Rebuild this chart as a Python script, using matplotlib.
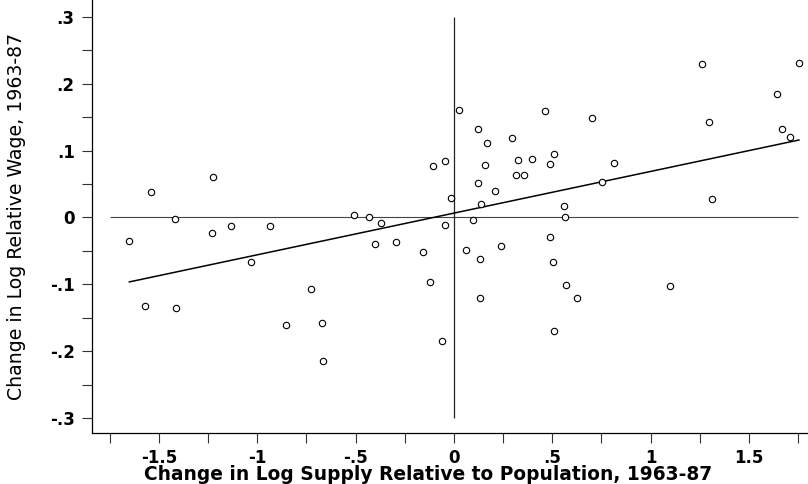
import matplotlib
matplotlib.use('Agg')
import matplotlib.pyplot as plt
import numpy as np

# change in log supply relative to population vs change in log relative wage, 1963-87
supply = [-1.650, -1.571, -1.540, -1.417, -1.415, -1.232, -1.225, -1.136, -1.030, -0.934,
          -0.856, -0.725, -0.673, -0.668, -0.507, -0.434, -0.402, -0.371, -0.295, -0.156,
          -0.122, -0.107, -0.061, -0.047, -0.046, -0.014, 0.025, 0.059, 0.095, 0.120,
          0.120, 0.134, 0.134, 0.137, 0.160, 0.168, 0.207, 0.237, 0.293, 0.315,
          0.325, 0.356, 0.397, 0.461, 0.486, 0.488, 0.505, 0.507, 0.507, 0.559,
          0.564, 0.571, 0.625, 0.702, 0.754, 0.815, 1.100, 1.262, 1.295, 1.310,
          1.640, 1.666, 1.710, 1.754]
wage = [-0.035, -0.132, 0.038, -0.003, -0.135, -0.023, 0.061, -0.013, -0.066, -0.013,
        -0.161, -0.107, -0.158, -0.215, 0.004, 0.001, -0.040, -0.008, -0.036, -0.052,
        -0.096, 0.077, -0.185, 0.085, -0.012, 0.029, 0.161, -0.048, -0.004, 0.132,
        0.052, -0.062, -0.120, 0.020, 0.078, 0.111, 0.039, -0.043, 0.119, 0.063,
        0.086, 0.063, 0.088, 0.159, -0.029, 0.080, -0.067, 0.095, -0.169, 0.017,
        0.001, -0.101, -0.120, 0.148, 0.053, 0.082, -0.102, 0.229, 0.142, 0.027,
        0.185, 0.132, 0.121, 0.231]

# fitted line (slope, intercept)
fit_slope = 0.0623
fit_intercept = 0.0065

xticks = [-1.5, -1, -0.5, 0, 0.5, 1, 1.5]
xticklabels = ['-1.5', '-1', '-.5', '0', '.5', '1', '1.5']
xminor = [-1.75, -1.25, -0.75, -0.25, 0.25, 0.75, 1.25, 1.75]
yticks = [-0.3, -0.2, -0.1, 0, 0.1, 0.2, 0.3]
yticklabels = ['-.3', '-.2', '-.1', '0', '.1', '.2', '.3']
yminor = [-0.25, -0.15, -0.05, 0.05, 0.15, 0.25]

fig = plt.figure(figsize=(8.08, 4.84), dpi=100)
ax = fig.add_axes([0.1139, 0.1047, 0.8861, 0.8953])

x = np.array(supply)
y = np.array(wage)

# reference lines through origin
ax.hlines(0, xminor[0], xminor[-1], color='#444444', lw=0.8, zorder=1)
ax.vlines(0, yticks[0], yticks[-1], color='#222222', lw=0.9, zorder=1)

xs = np.array([x.min(), x.max()])
ax.plot(xs, fit_intercept + fit_slope*xs, color='black', lw=1.1, zorder=2)

ax.plot(x, y, marker='o', ls='none', ms=4.6, mfc='white', mec='black', mew=0.8, zorder=3)

ax.set_xlim(-1.84, 1.80)
ax.set_ylim(-0.3226, 0.325)

for s in ['top', 'right']:
    ax.spines[s].set_visible(False)
for s in ['left', 'bottom']:
    ax.spines[s].set_linewidth(0.9)

ax.set_xticks(xticks)
ax.set_xticklabels(xticklabels)
ax.set_xticks(xminor, minor=True)
ax.set_yticks(yticks)
ax.set_yticklabels(yticklabels)
ax.set_yticks(yminor, minor=True)

ax.tick_params(which='both', direction='out', length=7.5, width=0.8, color='#333333')
ax.tick_params(axis='x', which='major', pad=3.5, labelsize=12)
ax.tick_params(axis='y', which='major', pad=5, labelsize=12)
for lab in ax.get_xticklabels() + ax.get_yticklabels():
    lab.set_fontweight('bold')
    lab.set_family('DejaVu Sans')

ax.set_xlabel('Change in Log Supply Relative to Population, 1963-87',
              fontsize=13.4, fontweight='bold', family='DejaVu Sans', labelpad=-1, x=0.47)
ax.set_ylabel('Change in Log Relative Wage, 1963-87',
              fontsize=13.6, family='DejaVu Sans')
ax.yaxis.set_label_coords(-0.092, 0.5)

plt.savefig('out.png', dpi=100)
